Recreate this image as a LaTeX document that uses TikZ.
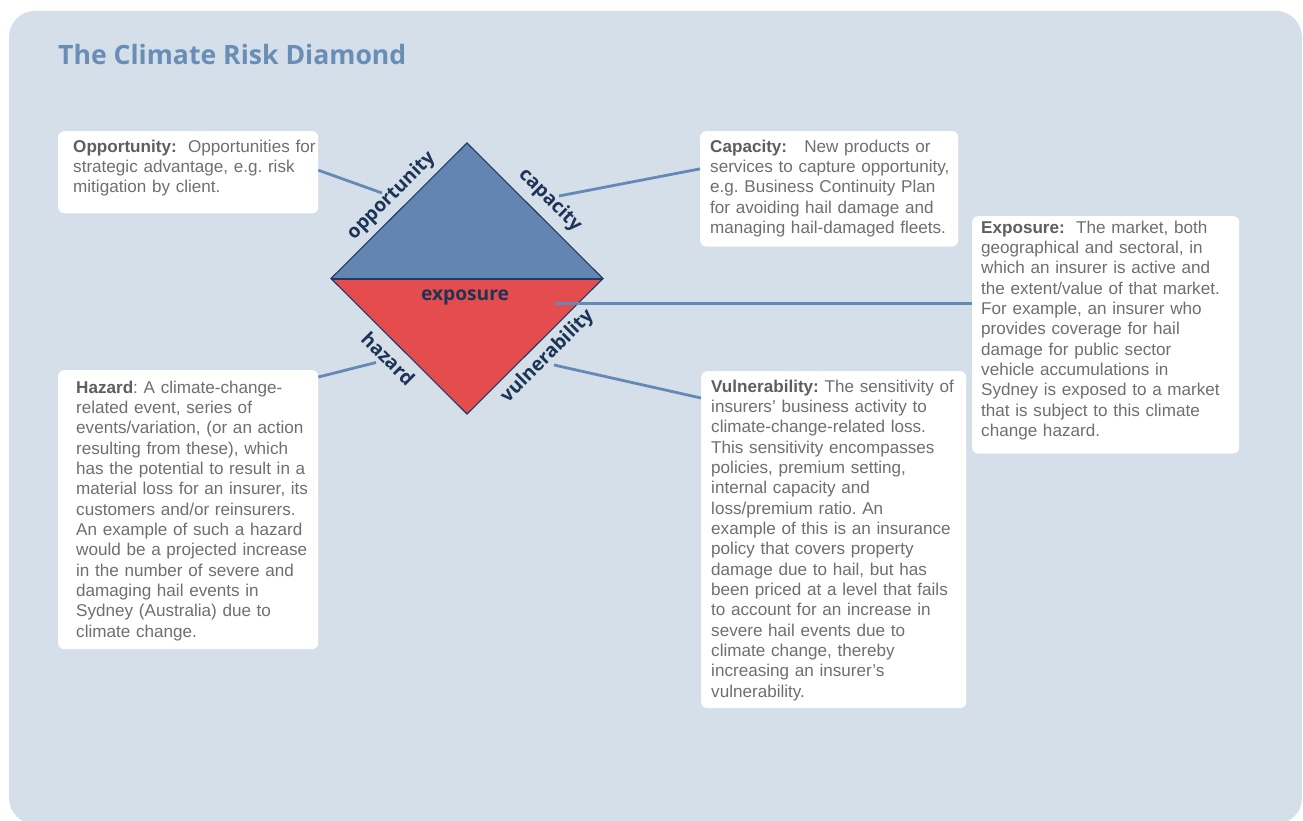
\documentclass[tikz,border=0pt]{standalone}
\usepackage{fontspec}
\setmainfont{Liberation Sans}
\newfontfamily\headfont{Open Sans}
\definecolor{bgcol}{HTML}{D4DFE9}
\definecolor{titlecol}{HTML}{6A8DB6}
\definecolor{bodycol}{HTML}{6E6F72}
\definecolor{boldcol}{HTML}{5D5E61}
\definecolor{topcol}{HTML}{6286B1}
\definecolor{botcol}{HTML}{E54C4E}
\definecolor{edgecol}{HTML}{203A63}
\definecolor{labcol}{HTML}{1E3456}
\definecolor{conncol}{HTML}{6489B6}
\newcommand{\hd}[1]{{\bfseries\color{boldcol}#1}}
\newcommand{\topr}[1]{\rule{0pt}{#1bp}}
\newcommand{\botr}[1]{\rule[-#1bp]{0pt}{#1bp}\par}
\newcommand{\padl}[1]{\leftskip=#1bp\relax}
\frenchspacing
\begin{document}
\begin{tikzpicture}[x=1bp,y=-1bp,
  infobox/.style={fill=white, rounded corners=6bp, inner sep=0pt, anchor=north west,
    align=left, text=bodycol, font=\frenchspacing\fontsize{17.1bp}{20.33bp}\selectfont},
  dlabel/.style={text=labcol, inner sep=0pt, font=\headfont\bfseries\fontsize{19.2bp}{20bp}\selectfont},
  conn/.style={draw=conncol, line width=2.8bp},
  dedge/.style={draw=edgecol, line width=1.1bp, line join=miter}]
\useasboundingbox (0,0) rectangle (1303,820);
\begin{scope}
\clip (0,0) rectangle (1303,820);
\fill[bgcol, rounded corners=26bp] (9,11) rectangle (1302,824);
\end{scope}

\node[anchor=base west, inner sep=0pt, text=titlecol, font=\headfont\bfseries\fontsize{26.6bp}{30bp}\selectfont] (title) at (58,65) {The Climate Risk Diamond};

% diamond
\coordinate (dT) at (467,143);
\coordinate (dL) at (331,278.5);
\coordinate (dR) at (603,278.5);
\coordinate (dB) at (467,414);
\fill[topcol] (dL) -- (dT) -- (dR) -- cycle;
\fill[botcol] (dL) -- (dB) -- (dR) -- cycle;
\draw[dedge] (dL) -- (dT) -- (dR) -- (dB) -- cycle;
\draw[draw=edgecol, line width=2bp] (dL) -- (dR);

\node[dlabel, rotate=45] (lopp) at (391.5,196) {opportunity};
\node[dlabel, rotate=-45] (lcap) at (550,200.5) {capacity};
\node[dlabel, anchor=base] (lexp) at (465,300) {exposure};
\node[dlabel, rotate=-45] (lhaz) at (388.3,358.3) {hazard};
\node[dlabel, rotate=45] (lvul) at (547.5,356.7) {vulnerability};

% boxes
\node[infobox, text width=260bp] (oppbox) at (58,131)
{\padl{15}\topr{21}\hd{Opportunity:}\ \ Opportunities for\\
strategic advantage, e.g. risk\\
mitigation by client.\botr{20.4}};

\node[infobox, text width=258bp] (capbox) at (700,131)
{\padl{10}\topr{21}\hd{Capacity:}\ \ \ New products or\\
services to capture opportunity,\\
e.g. Business Continuity Plan\\
for avoiding hail damage and\\
managing hail-damaged fleets.\botr{13}};

\node[infobox, text width=267bp] (expbox) at (972,216)
{\padl{9}\topr{17}\hd{Exposure:}\ \ The market, both\\
geographical and sectoral, in\\
which an insurer is active and\\
the extent/value of that market.\\
For example, an insurer who\\
provides coverage for hail\\
damage for public sector\\
vehicle accumulations in\\
Sydney is exposed to a market\\
that is subject to this climate\\
change hazard.\botr{17}};

\node[infobox, text width=260bp] (hazbox) at (58,370)
{\padl{18}\topr{23}\hd{Hazard}: A climate-change-\\
related event, series of\\
events/variation, (or an action\\
resulting from these), which\\
has the potential to result in a\\
material loss for an insurer, its\\
customers and/or reinsurers.\\
An example of such a hazard\\
would be a projected increase\\
in the number of severe and\\
damaging hail events in\\
Sydney (Australia) due to\\
climate change.\botr{12}};

\node[infobox, text width=265bp] (vulbox) at (701,371)
{\padl{10}\topr{21}\hd{Vulnerability:} The sensitivity of\\
insurers’ business activity to\\
climate-change-related loss.\\
This sensitivity encompasses\\
policies, premium setting,\\
internal capacity and\\
loss/premium ratio. An\\
example of this is an insurance\\
policy that covers property\\
damage due to hail, but has\\
been priced at a level that fails\\
to account for an increase in\\
severe hail events due to\\
climate change, thereby\\
increasing an insurer’s\\
vulnerability.\botr{11}};

% connectors
\coordinate (cOpp) at (382,193);
\coordinate (cCap) at (559,196);
\coordinate (cExpX) at (555,303);
\coordinate (cHaz) at (376,362.5);
\coordinate (cVul) at (554,365);
\coordinate (expStart) at ([yshift=31bp]expbox.west);
\coordinate (cExp) at (cExpX |- expStart);
\draw[conn] ([yshift=2bp]oppbox.east) -- (cOpp);
\draw[conn] ([yshift=20bp]capbox.west) -- (cCap);
\draw[conn] (expStart) -- (cExp);
\draw[conn] ([yshift=-7bp]hazbox.north east) -- (cHaz);
\draw[conn] ([yshift=-27bp]vulbox.north west) -- (cVul);
\end{tikzpicture}
\end{document}
